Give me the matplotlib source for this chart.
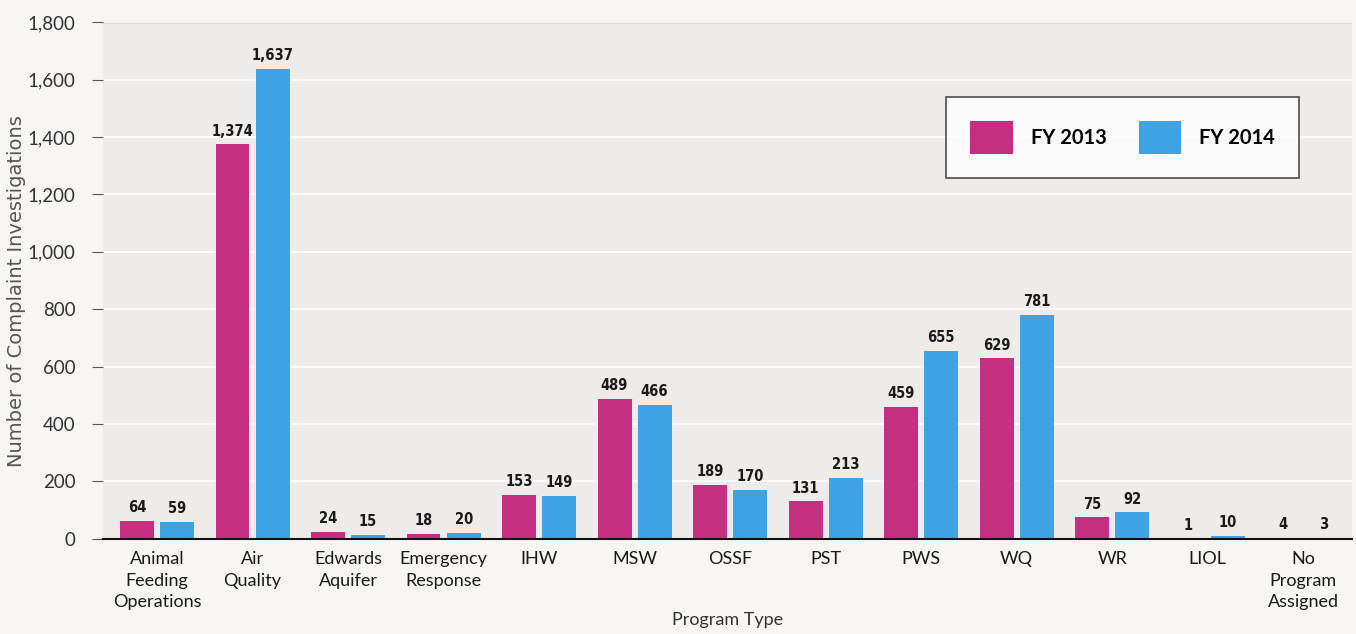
import matplotlib.pyplot as plt
import numpy as np

programs = ["Animal\nFeeding\nOperations", "Air\nQuality", "Edwards\nAquifer",
            "Emergency\nResponse", "IHW", "MSW", "OSSF", "PST", "PWS", "WQ",
            "WR", "LIOL", "No\nProgram\nAssigned"]
fy2013 = [64, 1374, 24, 18, 153, 489, 189, 131, 459, 629, 75, 1, 4]
fy2014 = [59, 1637, 15, 20, 149, 466, 170, 213, 655, 781, 92, 10, 3]
yticks = [0, 200, 400, 600, 800, 1000, 1200, 1400, 1600, 1800]

c13 = "#c4307f"
c14 = "#3ea3e3"

plt.rcParams['font.family'] = ['Lato', 'DejaVu Sans']

fig = plt.figure(figsize=(13.56, 6.34), dpi=100)
fig.set_facecolor("#f7f6f5")
ax = fig.add_axes([0.076, 0.150, 0.921, 0.815])
ax.set_facecolor("#eeebea")

x = np.arange(len(programs))
w = 0.355
off = 0.21
b1 = ax.bar(x - off, fy2013, w, color=c13, label="FY 2013", zorder=3)
b2 = ax.bar(x + off, fy2014, w, color=c14, label="FY 2014", zorder=3)

for bars, vals in ((b1, fy2013), (b2, fy2014)):
    for r, v in zip(bars, vals):
        ax.text(r.get_x() + r.get_width() / 2, v + 20, f"{v:,}", ha="center",
                va="bottom", fontsize=10.5, fontweight="bold",
                family="DejaVu Sans", fontstretch="condensed", color="#1a1a1a")

ax.set_ylim(0, 1800)
ax.set_xlim(-0.565, 12.51)
ax.set_yticks(yticks)
ax.set_yticklabels([f"{t:,}" for t in yticks], fontsize=13.5, color="#333333")
ax.set_xticks(x)
ax.set_xticklabels(programs, fontsize=13, color="#1a1a1a", linespacing=1.4)
ax.tick_params(axis="x", length=0, pad=9)
ax.tick_params(axis="y", length=8, color="#555555", pad=12)
ax.grid(axis="y", color="white", linewidth=1.2, zorder=0)
ax.axhline(1800, color="#999999", linewidth=1, zorder=1)
for s in ("top", "right", "left"):
    ax.spines[s].set_visible(False)
ax.spines["bottom"].set_color("#111111")
ax.spines["bottom"].set_linewidth(1.5)
ax.spines["bottom"].set_zorder(4)

ax.set_ylabel("Number of Complaint Investigations", fontsize=14,
              family="DejaVu Sans", color="#555555")
ax.yaxis.set_label_coords(-0.062, 0.48)
ax.set_xlabel("Program Type", fontsize=13, color="#333333")
ax.xaxis.set_label_coords(0.5, -0.141)

leg = ax.legend(loc="upper left", bbox_to_anchor=(0.675, 0.855), ncol=2,
                fontsize=14.5, frameon=True, fancybox=False, edgecolor="#222222",
                handlelength=2.1, handleheight=2.1, handletextpad=0.9,
                columnspacing=1.6, borderpad=1.2, borderaxespad=0)
leg.get_frame().set_linewidth(1.2)
for t in leg.get_texts():
    t.set_fontweight("bold")

fig.savefig("out.png", dpi=100, facecolor=fig.get_facecolor())
